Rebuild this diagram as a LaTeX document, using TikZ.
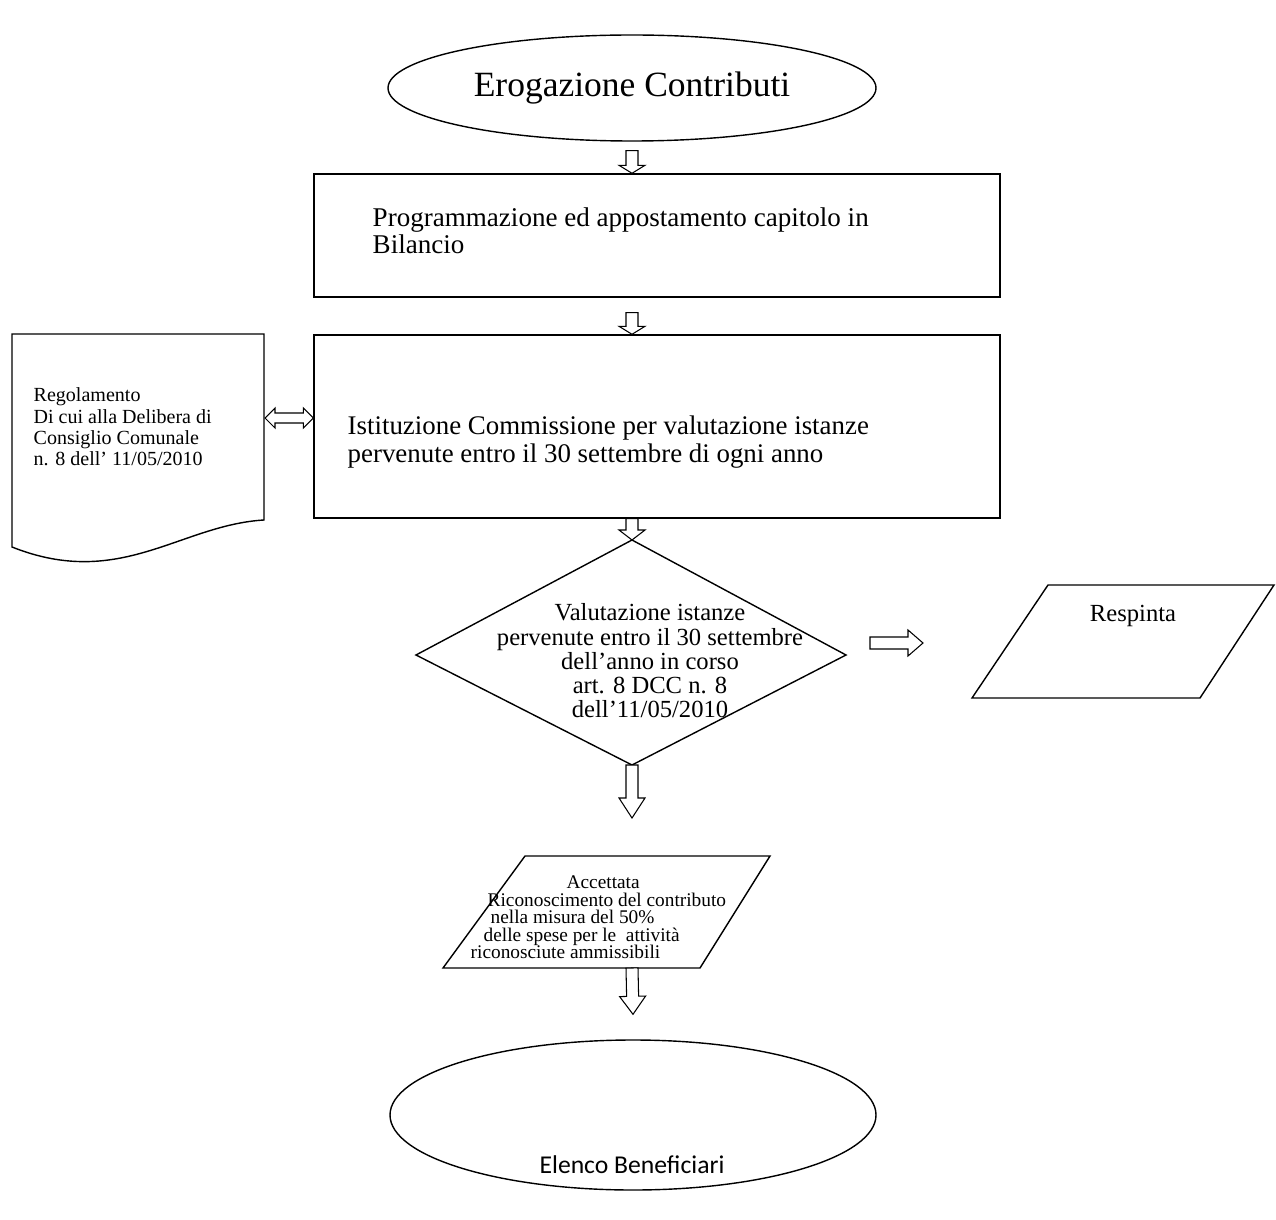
\documentclass[tikz,border=0pt]{standalone}
\usepackage{fontspec}
\setmainfont{Liberation Serif}
\newfontfamily\calibrifont{Carlito}
\usetikzlibrary{calc}
\usetikzlibrary{shapes.geometric,positioning}

% hollow block arrow from #2 to #3, head length #1
\newcommand{\blockarrow}[3][0.3cm]{%
  \path ($(#3)!#1!(#2)$) coordinate (hb);
  \draw[line width=0.6pt,fill=white] ($(#2)!0.12cm!90:(#3)$) -- ($(hb)!0.12cm!90:(#3)$)
    -- ($(hb)!0.26cm!90:(#3)$) -- (#3) -- ($(hb)!0.26cm!-90:(#3)$)
    -- ($(hb)!0.12cm!-90:(#3)$) -- ($(#2)!0.12cm!-90:(#3)$) -- cycle;}
% hollow block arrow with two heads
\newcommand{\blockdarrow}[3][0.2cm]{%
  \path ($(#3)!#1!(#2)$) coordinate (hb) ($(#2)!#1!(#3)$) coordinate (ha);
  \draw[line width=0.6pt,fill=white] (#2) -- ($(ha)!0.2cm!90:(#3)$) -- ($(ha)!0.1cm!90:(#3)$)
    -- ($(hb)!0.1cm!90:(#3)$) -- ($(hb)!0.2cm!90:(#3)$) -- (#3)
    -- ($(hb)!0.2cm!-90:(#3)$) -- ($(hb)!0.1cm!-90:(#3)$)
    -- ($(ha)!0.1cm!-90:(#3)$) -- ($(ha)!0.2cm!-90:(#3)$) -- cycle;}

\begin{document}
\begin{tikzpicture}[line width=0.8pt,
    box/.style={draw,minimum width=13.72cm,inner sep=0pt},
    oval/.style={draw,ellipse,inner sep=0pt},
    txt/.style={anchor=north west,align=left,inner sep=0pt}]
  \useasboundingbox (0,0) rectangle (25.52,-24.4);
  % start
  \node[oval,minimum width=9.76cm,minimum height=2.12cm,font=\fontsize{20.2}{22}\selectfont] (start) at (12.64,-1.76) {Erogazione Contributi};
  % boxes
  \node[box,minimum height=2.46cm] (prog) at (13.14,-4.71) {};
  \node[txt,font=\fontsize{15.4}{15.6}\selectfont] (progtxt) at (7.44,-4.14) {Programmazione ed appostamento capitolo in\\Bilancio};
  \node[box,minimum height=3.66cm] (ist) at (13.14,-8.53) {};
  \node[txt,font=\fontsize{15.3}{16}\selectfont] (isttxt) at (6.94,-8.3) {Istituzione Commissione per valutazione istanze\\pervenute entro il 30 settembre di ogni anno};
  % document
  \draw (0.24,-6.68) -- (5.28,-6.68) -- (5.28,-10.40)
    .. controls (3.6,-10.5) and (2.4,-11.8) .. (0.24,-10.94) -- cycle;
  \node[txt,font=\fontsize{11.4}{12.2}\selectfont] (reg) at (0.66,-7.74) {Regolamento\\Di cui alla Delibera di\\Consiglio Comunale\\n. 8 dell' 11/05/2010};
  % decision
  \coordinate (dtop) at (12.64,-10.8);
  \coordinate (dleft) at (8.32,-13.1);
  \coordinate (dright) at (16.92,-13.1);
  \coordinate (dbot) at (12.64,-15.3);
  \draw (dtop) -- (dright) -- (dbot) -- (dleft) -- cycle;
  \node[align=center,inner sep=0pt,font=\fontsize{14}{13.8}\selectfont] (val) at (13.0,-13.22) {Valutazione istanze\\pervenute entro il 30 settembre\\dell'anno in corso\\art. 8 DCC n. 8\\dell'11/05/2010};
  % respinta
  \draw (20.96,-11.7) -- (25.48,-11.7) -- (24.0,-13.96) -- (19.44,-13.96) -- cycle;
  \node[font=\fontsize{14}{16}\selectfont] (resp) at (22.66,-12.32) {Respinta};
  % accettata
  \draw (10.5,-17.12) -- (15.4,-17.12) -- (14.0,-19.36) -- (8.86,-19.36) -- cycle;
  \node[txt,font=\fontsize{11}{10}\selectfont] (acc) at (9.4,-17.5) {\hspace*{1.92cm}Accettata\\\hspace*{0.34cm}Riconoscimento del contributo\\\hspace*{0.4cm}nella misura del 50\%\\\hspace*{0.26cm}delle spese per le~ attività\\riconosciute ammissibili};
  % end
  \node[oval,minimum width=9.72cm,minimum height=3.0cm] (fine) at (12.66,-22.3) {};
  \node[font=\calibrifont\fontsize{14.6}{16}\selectfont] (finetxt) at (12.64,-23.3) {Elenco Beneficiari};
  % arrow ends
  \coordinate (a1) at ($(start.south)+(0,-0.18)$);
  \coordinate (a1e) at (start.south |- prog.north);
  \coordinate (a2) at ($(prog.south -| a1)+(0,-0.3)$);
  \coordinate (a2e) at (a1 |- ist.north);
  \coordinate (a3) at (ist.south -| dtop);
  \coordinate (a4e) at ($(dbot)+(0,-1.06)$);
  \coordinate (a5) at (12.64,-19.36);
  \coordinate (a5e) at ($(fine.north)+(0,0.5)$);
  \coordinate (ar) at (17.4,-12.86);
  \coordinate (are) at (18.46,-12.86);
  \coordinate (regr) at (5.30,-8.36);
  \coordinate (istl) at (ist.west |- regr);
  % arrows
  \blockarrow[0.16cm]{a1}{a1e}
  \blockarrow[0.16cm]{a2}{a2e}
  \blockarrow[0.2cm]{a3}{dtop}
  \blockarrow[0.4cm]{dbot}{a4e}
  \blockarrow[0.3cm]{ar}{are}
  \blockarrow[0.36cm]{a5}{a5e}
  \blockdarrow{regr}{istl}
\end{tikzpicture}
\end{document}
